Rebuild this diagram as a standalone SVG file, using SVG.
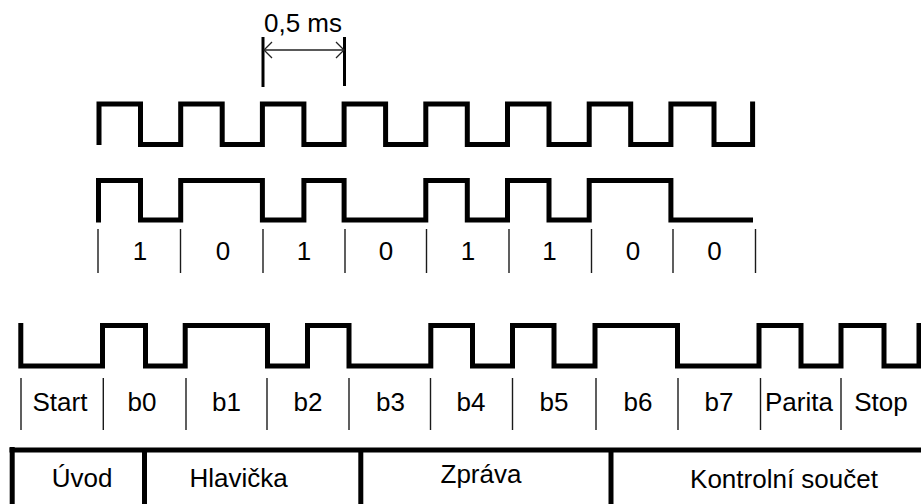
<svg xmlns="http://www.w3.org/2000/svg" width="921" height="504" viewBox="0 0 921 504">
<style>
.wave{fill:none;stroke:#000;stroke-width:5;stroke-linejoin:miter;stroke-linecap:butt}
.tick{stroke:#1a1a1a;stroke-width:1.4}
.dim{stroke:#000;stroke-width:3}
.arr{fill:none;stroke:#222;stroke-width:1.3}
.tbl{stroke:#000;stroke-width:5;fill:none}
text{font-family:"Liberation Sans",Arial,sans-serif;font-size:26px;fill:#000;text-anchor:middle}
</style>
<rect width="921" height="504" fill="#fff"/>
<g id="dimension">
<line class="dim" x1="263" y1="37" x2="263" y2="87"/>
<line class="dim" x1="344.5" y1="37" x2="344.5" y2="86"/>
<line class="arr" x1="264" y1="50" x2="343.5" y2="50"/>
<polyline class="arr" points="272,42 264,50 272,58"/>
<polyline class="arr" points="336,42 344,50 336,58"/>
<text x="303" y="31.5">0,5 ms</text>
</g>
<g id="clock">
<path class="wave" d="M99,145 V104 H140.5 V144.5 H180.7 V104 H222.2 V144.5 H262.4 V104 H303.9 V144.5 H344.1 V104 H385.6 V144.5 H425.8 V104 H467.3 V144.5 H507.5 V104 H549 V144.5 H589.2 V104 H630.7 V144.5 H670.9 V104 H714 V144.5 H752.6 V101.5"/>
</g>
<g id="data">
<path class="wave" d="M98.5,222.5 V180.5 H140.5 V220 H180.7 V180.5 H262.4 V220 H303.9 V180.5 H344.1 V220 H425.8 V180.5 H467.3 V220 H507.5 V180.5 H549 V220 H589.2 V180.5 H670.9 V220 H753"/>
</g>
<g id="data-ticks">
<line class="tick" x1="98" y1="229" x2="98" y2="273"/>
<line class="tick" x1="180.5" y1="229" x2="180.5" y2="273"/>
<line class="tick" x1="263" y1="229" x2="263" y2="273"/>
<line class="tick" x1="345" y1="229" x2="345" y2="273"/>
<line class="tick" x1="426.5" y1="229" x2="426.5" y2="273"/>
<line class="tick" x1="509" y1="229" x2="509" y2="273"/>
<line class="tick" x1="591.5" y1="229" x2="591.5" y2="273"/>
<line class="tick" x1="673" y1="229" x2="673" y2="273"/>
<line class="tick" x1="755.5" y1="229" x2="755.5" y2="273"/>
</g>
<g id="data-labels">
<text x="140" y="259.5">1</text>
<text x="223" y="259.5">0</text>
<text x="304" y="259.5">1</text>
<text x="386" y="259.5">0</text>
<text x="468" y="259.5">1</text>
<text x="549.5" y="259.5">1</text>
<text x="633" y="259.5">0</text>
<text x="714.5" y="259.5">0</text>
</g>
<g id="frame">
<path class="wave" d="M20.8,323 V366 H102.5 V325.5 H145.5 V366 H185.2 V325.5 H267.5 V366 H307.5 V325.5 H349 V366 H430.8 V325.5 H472.5 V366 H512.5 V325.5 H554 V366 H595 V325.5 H677.5 V366 H759 V325.5 H801 V366 H841 V325.5 H884 V366 H919 V325.5 H925"/>
</g>
<g id="frame-ticks">
<line class="tick" x1="21" y1="378" x2="21" y2="430"/>
<line class="tick" x1="103.3" y1="378" x2="103.3" y2="430"/>
<line class="tick" x1="186" y1="378" x2="186" y2="430"/>
<line class="tick" x1="267" y1="378" x2="267" y2="430"/>
<line class="tick" x1="349" y1="378" x2="349" y2="430"/>
<line class="tick" x1="430.5" y1="378" x2="430.5" y2="430"/>
<line class="tick" x1="512.5" y1="378" x2="512.5" y2="430"/>
<line class="tick" x1="596" y1="378" x2="596" y2="430"/>
<line class="tick" x1="678" y1="378" x2="678" y2="430"/>
<line class="tick" x1="760.5" y1="378" x2="760.5" y2="430"/>
<line class="tick" x1="841" y1="378" x2="841" y2="430"/>
</g>
<g id="frame-labels">
<text x="60" y="410.5">Start</text>
<text x="142" y="410.5">b0</text>
<text x="226.5" y="410.5">b1</text>
<text x="308" y="410.5">b2</text>
<text x="390.5" y="410.5">b3</text>
<text x="471" y="410.5">b4</text>
<text x="554" y="410.5">b5</text>
<text x="638" y="410.5">b6</text>
<text x="719" y="410.5">b7</text>
<text x="799" y="410.5">Parita</text>
<text x="881" y="410.5">Stop</text>
</g>
<g id="table">
<line class="tbl" x1="9.5" y1="450" x2="925" y2="450" stroke-width="6"/>
<line class="tbl" x1="12.2" y1="447" x2="12.2" y2="510"/>
<line class="tbl" x1="144.5" y1="450" x2="144.5" y2="510"/>
<line class="tbl" x1="360.8" y1="450" x2="360.8" y2="510"/>
<line class="tbl" x1="611" y1="450" x2="611" y2="510"/>
<text x="82" y="486.7">Úvod</text>
<text x="238.5" y="486.7">Hlavička</text>
<text x="481" y="483.3">Zpráva</text>
<text x="784" y="488.3">Kontrolní součet</text>
</g>
</svg>
